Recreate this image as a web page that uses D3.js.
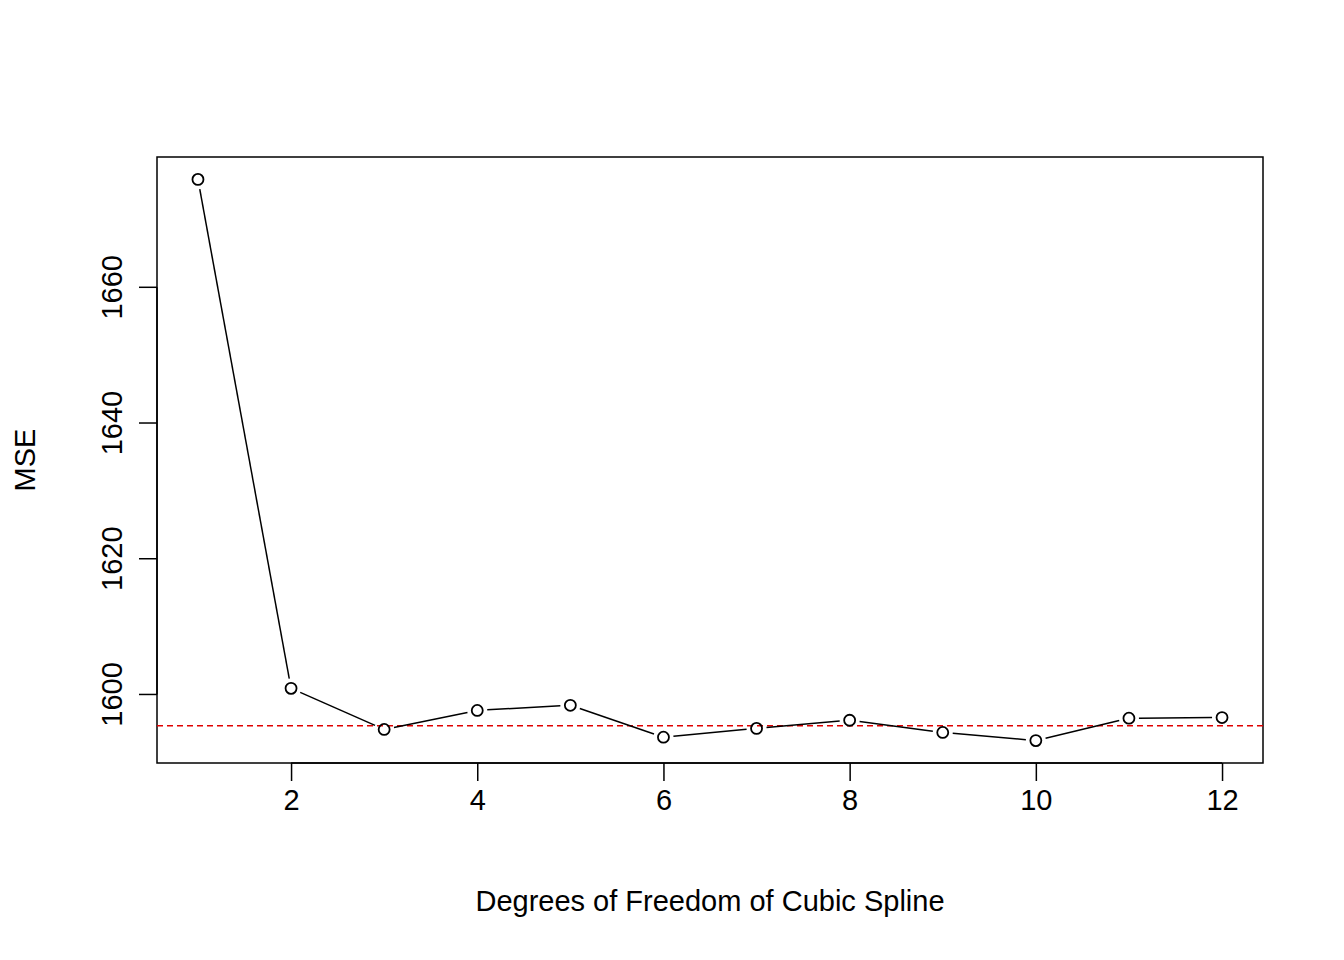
<!DOCTYPE html>
<html><head><meta charset="utf-8">
<script src="https://cdn.jsdelivr.net/npm/d3@7"></script>
<style>body{margin:0;background:#fff}</style></head>
<body><svg id="c" width="1344" height="960"></svg>
<script>
const df = [1,2,3,4,5,6,7,8,9,10,11,12];
const mse = [1675.9,1600.9,1594.85,1597.65,1598.4,1593.7,1595.0,1596.2,1594.4,1593.2,1596.5,1596.6];
const refLine = 1595.4;
const xTicks = [2,4,6,8,10,12];
const yTicks = [1600,1620,1640,1660];

const svg = d3.select("#c");
const L=157,R=1263,T=157,B=763;
const x = d3.scaleLinear().domain([0.56,12.44]).range([L,R]);
const y = d3.scaleLinear().domain([1589.9,1679.2]).range([B,T]);
const font="Liberation Sans, Arial, sans-serif";

svg.append("rect").attr("x",L).attr("y",T).attr("width",R-L).attr("height",B-T)
  .attr("fill","none").attr("stroke","#000").attr("stroke-width",1.5);

const gx = svg.append("g").attr("transform",`translate(0,${B})`)
  .call(d3.axisBottom(x).tickValues(xTicks).tickSize(18).tickPadding(8).tickFormat(d3.format("d")));
gx.select(".domain").attr("d",`M${x(2)},0H${x(12)}`).attr("stroke-width",1.5);
gx.selectAll("line").attr("stroke-width",1.5);
gx.selectAll("text").attr("font-family",font).attr("font-size",29).attr("fill","#000");

const gy = svg.append("g").attr("transform",`translate(${L},0)`)
  .call(d3.axisLeft(y).tickValues(yTicks).tickSize(18).tickFormat(d3.format("d")));
gy.select(".domain").attr("d",`M0,${y(1600)}V${y(1660)}`).attr("stroke-width",1.5);
gy.selectAll("line").attr("stroke-width",1.5);
gy.selectAll("text").attr("font-family",font).attr("font-size",29).attr("fill","#000")
  .attr("text-anchor","middle").attr("transform",d=>`translate(-45,${y(d)}) rotate(-90)`)
  .attr("x",0).attr("y",0).attr("dy","0.35em");
gy.selectAll(".tick").attr("transform",null);
gy.selectAll(".tick line").attr("transform",d=>`translate(0,${y(d)})`);

svg.append("line").attr("x1",L).attr("x2",R).attr("y1",y(refLine)).attr("y2",y(refLine))
  .attr("stroke","#e00000").attr("stroke-width",1.5).attr("stroke-dasharray","6,4");

const gap=10;
for(let i=0;i<df.length-1;i++){
  const x1=x(df[i]),y1=y(mse[i]),x2=x(df[i+1]),y2=y(mse[i+1]);
  const d=Math.hypot(x2-x1,y2-y1); if(d<=2*gap) continue;
  const ux=(x2-x1)/d,uy=(y2-y1)/d;
  svg.append("line").attr("x1",x1+ux*gap).attr("y1",y1+uy*gap).attr("x2",x2-ux*gap).attr("y2",y2-uy*gap)
    .attr("stroke","#000").attr("stroke-width",1.5);
}
svg.selectAll("circle.p").data(df).enter().append("circle")
  .attr("cx",d=>x(d)).attr("cy",(d,i)=>y(mse[i])).attr("r",5.5)
  .attr("fill","none").attr("stroke","#000").attr("stroke-width",1.8);

svg.append("text").attr("x",(L+R)/2).attr("y",911).attr("text-anchor","middle")
  .attr("font-family",font).attr("font-size",29).text("Degrees of Freedom of Cubic Spline");
svg.append("text").attr("transform",`translate(35,${(T+B)/2}) rotate(-90)`).attr("text-anchor","middle")
  .attr("font-family",font).attr("font-size",29).text("MSE");
</script></body></html>
